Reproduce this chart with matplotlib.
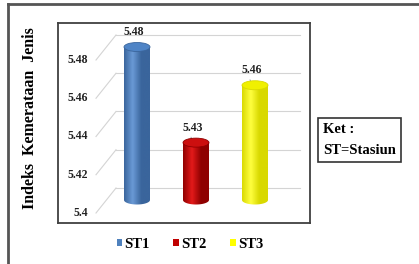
import matplotlib
matplotlib.use("Agg")
import matplotlib.pyplot as plt
import numpy as np
from matplotlib.path import Path
from matplotlib.patches import PathPatch, Ellipse, Patch
from matplotlib.lines import Line2D
from matplotlib.colors import LinearSegmentedColormap

plt.rcParams['font.family'] = ['Liberation Serif', 'DejaVu Serif']

# data
stations = ['ST1', 'ST2', 'ST3']
values = [5.48, 5.43, 5.46]
yticks = [5.40, 5.42, 5.44, 5.46, 5.48]
ytick_labels = ['5.4', '5.42', '5.44', '5.46', '5.48']
value_labels = ['5.48', '5.43', '5.46']

# colours for each cylinder: (edge dark, highlight, cap)
shades = [
    ('#3a659c', '#6a9ad6', '#4f84c6'),
    ('#8f0000', '#e41a1a', '#cc0f0f'),
    ('#d9d900', '#ffff40', '#f0f000'),
]
legend_colors = ['#4f81bd', '#c00000', '#ffff00']

W, H = 419, 264
fig = plt.figure(figsize=(W / 100, H / 100), dpi=100)

# inner plot frame in pixels
fl, fr, ft, fb = 58, 310, 23, 223
ax = fig.add_axes([fl / W, 1 - fb / H, (fr - fl) / W, (fb - ft) / H])

# scale: back-wall gridlines at 5.48 -> px 35, 5.40 -> px 188
ppu = (188 - 35) / 0.08
ax.set_ylim(5.40 - (fb - 188) / ppu, 5.48 + (35 - ft) / ppu)
xstep = 59.0
ax.set_xlim((fl - 137) / xstep, (fr - 137) / xstep)

front = 25 / ppu      # depth offset from back wall to front edge
mid = 12 / ppu        # bars sit at mid depth
ax.set_xticks([])
ax.set_yticks([])
for s in ax.spines.values():
    s.set_color('#404040')
    s.set_linewidth(1.3)

# pseudo-3D gridlines
gx0, gx1, gx2 = (96 - 137) / xstep, (116 - 137) / xstep, (300 - 137) / xstep
for t, lab in zip(yticks, ytick_labels):
    ax.plot([gx0, gx1], [t - front, t], color='#d4d4d4', lw=0.8, zorder=1)
    ax.plot([gx1, gx2], [t, t], color='#d4d4d4', lw=0.8, zorder=1)
    ax.text((88 - 137) / xstep, t - front, lab, ha='right', va='center',
            fontsize=8.5, fontweight='bold', color='#222222')

bw = 26 / xstep
eh = 9 / ppu
base = yticks[0] - mid
for i, (v, (dark, light, cap)) in enumerate(zip(values, shades)):
    top = v - mid
    x0, x1 = i - bw / 2, i + bw / 2
    tt = np.linspace(np.pi, 2 * np.pi, 40)
    arc = np.column_stack([i + bw / 2 * np.cos(tt), base + eh / 2 * np.sin(tt)])
    verts = np.vstack([[[x0, top]], arc, [[x1, top]], [[x0, top]]])
    path = Path(verts)
    patch = PathPatch(path, facecolor='none', edgecolor='none')
    ax.add_patch(patch)
    cmap = LinearSegmentedColormap.from_list('c', [dark, light, dark, dark], N=256)
    grad = np.linspace(0, 1, 256).reshape(1, -1)
    im = ax.imshow(grad, cmap=cmap, extent=[x0, x1, base - eh, top],
                   aspect='auto', zorder=3, interpolation='bicubic')
    im.set_clip_path(patch)
    ax.add_patch(Ellipse((i, top), bw, eh, facecolor=cap, edgecolor=dark,
                         lw=0.6, zorder=4))
    ax.annotate(value_labels[i], (i, top), xytext=(-3, 15),
                textcoords='offset pixels', ha='center', va='center',
                fontsize=8.5, fontweight='bold', color='#222222', zorder=5)
    if i > 0:
        ax.annotate('', (i - 0.05, top), xytext=(-3, 8), textcoords='offset pixels',
                    arrowprops=dict(arrowstyle='-', color='#999999', lw=0.7))

ax.set_ylabel('Indeks  Kemerataan  Jenis', fontsize=11.5, fontweight='bold')
ax.yaxis.set_label_coords(-(58 - 38) / (fr - fl), 0.525)

# legend
handles = [Patch(facecolor=c, edgecolor='none') for c in legend_colors]
fig.legend(handles, stations, loc='center', ncol=3, frameon=False,
           bbox_to_anchor=(190 / W, 1 - 244 / H),
           prop={'weight': 'bold', 'size': 10.5},
           handlelength=0.4, handleheight=0.4, handletextpad=0.15,
           columnspacing=1.6)

# note box
fig.text(323 / W, 1 - 140 / H, 'Ket :\nST=Stasiun', ha='left', va='center',
         fontsize=10.5, fontweight='bold', linespacing=1.75,
         bbox=dict(boxstyle='square,pad=0.35', facecolor='white',
                   edgecolor='#333333', lw=1.2))

# outer frame (top and left)
fig.add_artist(Line2D([7.5 / W, 1], [1 - 3.5 / H, 1 - 3.5 / H],
                      transform=fig.transFigure, color='#555555', lw=2))
fig.add_artist(Line2D([7.5 / W, 7.5 / W], [0, 1 - 3.5 / H],
                      transform=fig.transFigure, color='#555555', lw=2))

fig.savefig('out.png', dpi=100)
